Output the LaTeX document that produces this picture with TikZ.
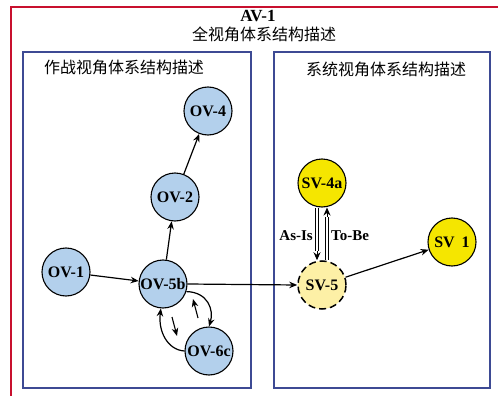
\documentclass[tikz,border=0pt]{standalone}
\usepackage{fontspec}
\setmainfont{Liberation Serif}
\newfontfamily\cjk{Noto Sans CJK SC}
\usetikzlibrary{arrows.meta}

\definecolor{frameRed}{HTML}{C8102E}
\definecolor{panelBlue}{HTML}{3D4A94}
\definecolor{ovBlue}{HTML}{B3D0EC}
\definecolor{svYellow}{HTML}{F5E600}
\definecolor{svPale}{HTML}{FDF0A6}

\begin{document}
\begin{tikzpicture}[x=1pt, y=-1pt,
  view/.style={circle, draw=black, line width=1.1pt, minimum size=48pt, inner sep=0pt,
               font=\fontsize{16}{16}\selectfont\bfseries},
  ovnode/.style={view, fill=ovBlue},
  svnode/.style={view, fill=svYellow},
  svplan/.style={view, fill=svPale, dash pattern=on 7pt off 4pt, line width=1.5pt},
  link/.style={line width=1.2pt, -{Stealth[length=8pt,width=6.5pt]}},
  pipe/.style={line width=4.4pt, draw=black, postaction={draw=white, line width=2.6pt}},
  tip/.style={line width=1pt, -{Stealth[length=8pt,width=7pt]}},
  panel/.style={draw=panelBlue, line width=1.5pt},
  heading/.style={font=\cjk\fontsize{16}{16}\selectfont},
  tag/.style={font=\fontsize{15}{15}\selectfont\bfseries, inner sep=0pt}
]
\useasboundingbox (0,0) rectangle (498,396);
\fill[white] (0,0) rectangle (498,396);

% outer frame (left and top edges)
\draw[frameRed, line width=1.2pt] (11,396) -- (11,7) -- (498,7);

% titles
\node[font=\fontsize{17}{17}\selectfont\bfseries] (avtitle) at (258,16) {AV-1};
\node[heading] (avsub) at (264,34) {全视角体系结构描述};

% two panels
\draw[panel] (23,52) rectangle (251,388);
\draw[panel] (274,52) rectangle (490,388);
\node[heading] (optitle) at (124,67) {作战视角体系结构描述};
\node[heading] (systitle) at (386,69) {系统视角体系结构描述};

% operational views
\node[ovnode] (ov4)  at (208,111) {OV-4};
\node[ovnode] (ov2)  at (175,197) {OV-2};
\node[ovnode] (ov1)  at (66,272)  {OV-1};
\node[ovnode] (ov5b) at (163,284) {OV-5b};
\node[ovnode] (ov6c) at (209,351) {OV-6c};

% system views
\node[svnode] (sv4a) at (322,183) {SV-4a};
\node[svplan] (sv5)  at (322,285) {SV-5};
\node[svnode] (sv1)  at (452,242) {SV\hspace{7pt}1};

% operational links
\draw[link] (ov1) -- (ov5b);
\draw[link] (ov5b) -- (ov2);
\draw[link] (ov2) -- (ov4);
\draw[link] (ov5b.-18) .. controls (208,292) and (214,310) .. (ov6c.north);
\draw[link] (ov6c.west) .. controls (168,350) and (158,332) .. (ov5b.-95);
\coordinate (m1a) at (198,318);
\coordinate (m1b) at (193,299);
\coordinate (m2a) at (172,317);
\coordinate (m2b) at (177,336);
\draw[link, line width=1.1pt] (m1a) -- (m1b);
\draw[link, line width=1.1pt] (m2a) -- (m2b);

% cross-panel and system links
\draw[link] (ov5b.east) -- (sv5.west);
\draw[link] (sv5) -- (sv1);

% As-Is / To-Be transitions
\draw[pipe] ([xshift=-5pt]sv4a.south) -- ([xshift=-5pt,yshift=9pt]sv5.north);
\draw[tip]  ([xshift=-5pt,yshift=9pt]sv5.north) -- ([xshift=-5pt]sv5.north);
\draw[pipe] ([xshift=5pt]sv5.north) -- ([xshift=5pt,yshift=-9pt]sv4a.south);
\draw[tip]  ([xshift=5pt,yshift=-9pt]sv4a.south) -- ([xshift=5pt]sv4a.south);
\node[tag, anchor=east] (asis) at (313,236) {As-Is};
\node[tag, anchor=west] (tobe) at (331,236) {To-Be};
\end{tikzpicture}
\end{document}
